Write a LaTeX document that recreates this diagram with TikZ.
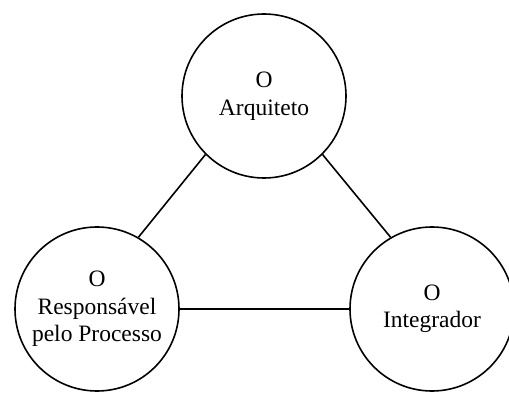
\documentclass[tikz,border=0pt]{standalone}
\usepackage{fontspec}
\setmainfont{Liberation Serif}
\begin{document}
\begin{tikzpicture}[x=1pt,y=1pt,
  role/.style={draw=black, line width=1.6pt, circle, minimum size=164pt,
    inner sep=0pt, align=center, font=\fontsize{23.5}{27.5}\selectfont},
  link/.style={draw=black, line width=1.6pt}]
  \fill[white] (0,0) rectangle (509,394);
  \useasboundingbox (0,0) rectangle (509,394);
  \node[role] (arq) at (264,298) {O\\Arquiteto};
  \node[role] (resp) at (97,85) {O\\Responsável\\pelo Processo};
  \node[role] (integ) at (432,85) {O\\Integrador};
  \draw[link] (arq.225) -- (resp.60);
  \draw[link] (arq.315) -- (integ.120);
  \draw[link] (resp.0) -- (integ.180);
\end{tikzpicture}
\end{document}
